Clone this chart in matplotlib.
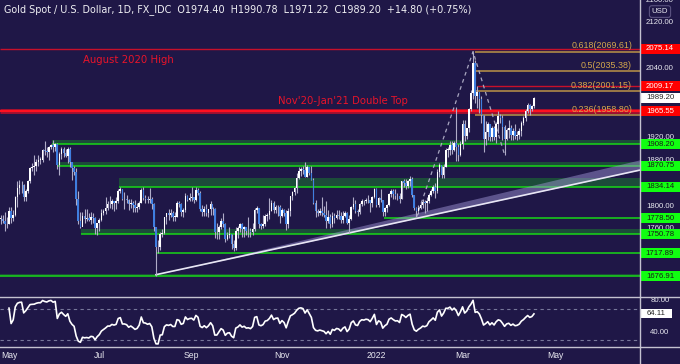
import numpy as np
import pandas as pd
import matplotlib
matplotlib.use("Agg")
import matplotlib.pyplot as plt
from matplotlib.patches import Rectangle
from matplotlib.lines import Line2D

# Gold spot daily bars as (high, low, close), one list per month
apr21 = [(1785, 1769, 1778), (1784, 1770, 1773), (1790, 1756, 1768), (1780, 1761, 1769)]
may21 = [(1799, 1768, 1792), (1798, 1771, 1779), (1793, 1774, 1784), (1817, 1782, 1815), (1844, 1798, 1831),
         (1845, 1821, 1836), (1843, 1822, 1837), (1838, 1809, 1815), (1829, 1808, 1826), (1845, 1823, 1844),
         (1869, 1841, 1867), (1875, 1862, 1869), (1890, 1855, 1870), (1883, 1862, 1877), (1890, 1870, 1881),
         (1886, 1873, 1881), (1900, 1877, 1898), (1913, 1890, 1896), (1903, 1885, 1895), (1905, 1880, 1903),
         (1909, 1899, 1906)]
jun21 = [(1916, 1894, 1903), (1910, 1896, 1908), (1910, 1864, 1871), (1895, 1855, 1891),
         (1903, 1882, 1899), (1903, 1885, 1893), (1900, 1885, 1888), (1903, 1876, 1899), (1903, 1869, 1877),
         (1877, 1845, 1866), (1870, 1854, 1859), (1866, 1802, 1812), (1826, 1768, 1774), (1790, 1761, 1764),
         (1789, 1765, 1782), (1794, 1771, 1778), (1795, 1773, 1779), (1787, 1773, 1776), (1789, 1769, 1781),
         (1788, 1771, 1779), (1780, 1751, 1761), (1771, 1750, 1770)]
jul21 = [(1779, 1757, 1776), (1795, 1774, 1787),
         (1795, 1784, 1792), (1815, 1786, 1797), (1809, 1793, 1803), (1818, 1796, 1803), (1812, 1795, 1808),
         (1809, 1791, 1806), (1815, 1795, 1808), (1830, 1806, 1826), (1834, 1823, 1829), (1830, 1810, 1812),
         (1825, 1794, 1812), (1820, 1806, 1810), (1812, 1793, 1803), (1812, 1797, 1806), (1808, 1790, 1802),
         (1810, 1790, 1797), (1805, 1790, 1799), (1808, 1795, 1806), (1832, 1806, 1828), (1833, 1810, 1814)]
aug21 = [(1820, 1805, 1813), (1817, 1805, 1810), (1832, 1806, 1812), (1815, 1794, 1804), (1806, 1757, 1763),
         (1764, 1677, 1729), (1740, 1718, 1728), (1754, 1724, 1752), (1760, 1746, 1753), (1781, 1751, 1780),
         (1788, 1768, 1787), (1795, 1775, 1785), (1794, 1780, 1788), (1791, 1774, 1781), (1790, 1774, 1781),
         (1808, 1780, 1805), (1809, 1798, 1803), (1805, 1782, 1790), (1796, 1781, 1793), (1823, 1790, 1818),
         (1820, 1808, 1810), (1823, 1808, 1814)]
sep21 = [(1834, 1809, 1815), (1816, 1805, 1810), (1834, 1809, 1828),
         (1831, 1820, 1823), (1827, 1791, 1794), (1802, 1783, 1789), (1800, 1782, 1795), (1804, 1783, 1788),
         (1795, 1780, 1794), (1809, 1785, 1804), (1798, 1785, 1794), (1796, 1745, 1754), (1770, 1742, 1754),
         (1767, 1742, 1764), (1779, 1760, 1774), (1787, 1764, 1768), (1770, 1737, 1743), (1755, 1741, 1750),
         (1763, 1745, 1751), (1752, 1725, 1734), (1740, 1721, 1726), (1764, 1723, 1757)]
oct21 = [(1765, 1745, 1761),
         (1770, 1754, 1769), (1770, 1746, 1760), (1765, 1746, 1763), (1764, 1750, 1756), (1781, 1746, 1757),
         (1762, 1746, 1754), (1770, 1750, 1760), (1796, 1757, 1793), (1800, 1787, 1796), (1797, 1762, 1768),
         (1771, 1759, 1765), (1785, 1761, 1769), (1786, 1765, 1782), (1788, 1774, 1784), (1814, 1778, 1792),
         (1810, 1791, 1806), (1809, 1788, 1793), (1801, 1787, 1798), (1802, 1783, 1799), (1801, 1770, 1783)]
nov21 = [(1797, 1780, 1793), (1794, 1782, 1787), (1793, 1758, 1769), (1796, 1761, 1792), (1818, 1782, 1818),
         (1827, 1810, 1824), (1834, 1819, 1832), (1857, 1822, 1849), (1868, 1847, 1862), (1869, 1853, 1865),
         (1870, 1856, 1863), (1877, 1851, 1851), (1871, 1850, 1869), (1869, 1855, 1858), (1870, 1845, 1846),
         (1849, 1804, 1805), (1811, 1781, 1791), (1795, 1782, 1788), (1796, 1785, 1791), (1815, 1782, 1788),
         (1800, 1780, 1785), (1808, 1761, 1774)]
dec21 = [(1793, 1770, 1781), (1786, 1762, 1768), (1790, 1763, 1783),
         (1787, 1771, 1779), (1793, 1777, 1785), (1793, 1777, 1783), (1789, 1771, 1775), (1791, 1770, 1783),
         (1792, 1781, 1787), (1790, 1768, 1770), (1785, 1753, 1777), (1800, 1776, 1798), (1815, 1795, 1804),
         (1810, 1788, 1791), (1795, 1782, 1789), (1806, 1786, 1803), (1812, 1800, 1809), (1811, 1802, 1808),
         (1814, 1805, 1811), (1820, 1805, 1810), (1811, 1790, 1805), (1817, 1799, 1815), (1831, 1814, 1829)]
jan22 = [(1831, 1798, 1801), (1815, 1799, 1814), (1829, 1807, 1810), (1811, 1782, 1789), (1799, 1783, 1797),
         (1804, 1790, 1802), (1822, 1800, 1821), (1829, 1816, 1826), (1829, 1812, 1821), (1829, 1813, 1817),
         (1822, 1810, 1818), (1822, 1805, 1813), (1844, 1812, 1843), (1847, 1834, 1840), (1847, 1829, 1835),
         (1846, 1831, 1843), (1853, 1835, 1848), (1851, 1815, 1819), (1820, 1793, 1797), (1799, 1780, 1791),
         (1802, 1786, 1797)]
feb22 = [(1807, 1795, 1801), (1813, 1797, 1807), (1811, 1788, 1805), (1815, 1792, 1808),
         (1823, 1805, 1820), (1829, 1817, 1826), (1836, 1823, 1833), (1841, 1814, 1827), (1865, 1822, 1859),
         (1875, 1850, 1871), (1870, 1849, 1854), (1873, 1849, 1869), (1902, 1869, 1898), (1903, 1886, 1898),
         (1913, 1890, 1906), (1914, 1891, 1898), (1914, 1896, 1910), (1974, 1878, 1903), (1909, 1878, 1889),
         (1914, 1888, 1909)]
mar22 = [(1950, 1900, 1943), (1950, 1913, 1922), (1937, 1918, 1936), (1971, 1929, 1970),
         (2002, 1967, 1998), (2070, 1987, 2050), (2056, 1980, 1993), (2009, 1972, 2000), (2000, 1962, 1988),
         (1992, 1945, 1960), (1960, 1895, 1918), (1949, 1906, 1929), (1947, 1915, 1943), (1944, 1914, 1921),
         (1940, 1914, 1936), (1940, 1915, 1921), (1947, 1910, 1944), (1966, 1927, 1958), (1961, 1946, 1954),
         (1960, 1915, 1938), (1941, 1890, 1918), (1937, 1915, 1933), (1950, 1919, 1937)]
apr22 = [(1941, 1915, 1925),
         (1937, 1916, 1932), (1944, 1917, 1923), (1932, 1915, 1925), (1937, 1918, 1931), (1949, 1923, 1946),
         (1958, 1941, 1954), (1970, 1948, 1966), (1981, 1963, 1977), (1978, 1960, 1970), (1976, 1966, 1974.40),
         (1990.78, 1971.22, 1989.20)]
first_open = 1778.0

red_levels = [2075.14, 2009.17, 1965.55]
green_levels = [1908.20, 1870.75, 1834.14, 1778.50, 1750.78, 1717.89, 1676.91]
fib_ratios = [0.618, 0.5, 0.382, 0.236]
fib_values = [2069.61, 2035.38, 2001.15, 1958.80]
price_ticks = [2160, 2120, 2040, 1920, 1880, 1800, 1760]
last_price = 1989.20
rsi_last = 64.11
month_labels = ["May", "Jul", "Sep", "Nov", "2022", "Mar", "May"]
month_starts = ["2021-05-01", "2021-07-01", "2021-09-01", "2021-11-01", "2022-01-01", "2022-03-01", "2022-05-01"]
trend_pts = [("2021-08-09", 1680), ("2021-12-15", 1753)]
fib_pts = [("2022-01-28", 1780), ("2022-03-08", 2070), ("2022-03-29", 1890)]

rows = apr21 + may21 + jun21 + jul21 + aug21 + sep21 + oct21 + nov21 + dec21 + jan22 + feb22 + mar22 + apr22
dates = pd.bdate_range("2021-04-27", "2022-04-18")
assert len(rows) == len(dates)
highs = np.array([r[0] for r in rows], float)
lows = np.array([r[1] for r in rows], float)
closes = np.array([r[2] for r in rows], float)
opens = np.concatenate([[first_open], closes[:-1]])
n = len(closes)
xs = np.arange(n)
all_days = pd.bdate_range("2021-04-27", "2022-06-30")


def bar_of(d):
    return int(np.searchsorted(all_days, pd.Timestamp(d)))


BG = "#1f1747"
GRID = "#c4c2d0"
W, H = 680, 364
X0, X1 = -0.286, 304.5
P0, P1 = 1641, 2160.2

fig = plt.figure(figsize=(6.8, 3.64), dpi=100)
fig.patch.set_facecolor(BG)


def px_axes(x, y, w, h):
    a = fig.add_axes([x / W, 1 - (y + h) / H, w / W, h / H])
    a.set_facecolor(BG)
    for s in a.spines.values():
        s.set_visible(False)
    return a


ax = px_axes(0, 0, 640, 297)
axr = px_axes(640, 0, 40, 297)
rs = px_axes(0, 297, 640, 50)
rsr = px_axes(640, 297, 40, 50)
for a in (ax, rs):
    a.set_xlim(X0, X1)
ax.set_ylim(P0, P1)
axr.set_ylim(P0, P1)
axr.set_xlim(0, 1)
for a in (ax, axr, rsr):
    a.set_xticks([])
    a.set_yticks([])

# green support zones
green_style = {1908.20: ("2021-06-01", 7), 1870.75: ("2021-06-04", 6), 1834.14: ("2021-07-15", 15),
               1778.50: ("2022-01-07", 0), 1750.78: ("2021-06-21", 9), 1717.89: ("2021-08-10", 0),
               1676.91: ("2021-04-27", 5)}
for lv in green_levels:
    start, band = green_style[lv]
    s = bar_of(start) - 0.5
    if band:
        ax.add_patch(Rectangle((s, lv), X1 - s, band, color="#1c4c3a", lw=0, zorder=1))
    ax.hlines(lv, s, X1, color="#18d818", lw=1.1, zorder=2)

# red levels
ax.hlines(red_levels[0], X0, X1, color="#c8102a", lw=1.0, zorder=2)
ax.hlines(red_levels[1], bar_of("2022-03-10"), X1, color="#c8102a", lw=1.0, zorder=2)
ax.hlines(red_levels[2], X0, X1, color="#9a1030", lw=3.6, zorder=2)
ax.hlines(red_levels[2], X0, X1, color="#ff1020", lw=1.6, zorder=2)

# fib extension levels
fs = bar_of("2022-03-09")
for r, v in zip(fib_ratios, fib_values):
    ax.hlines(v, fs, X1, color="#b08a48", lw=1.2, zorder=2)
    ax.text(300.7, v + 2.5, f"{r}({v:.2f})", color="#d4a84c", fontsize=6.4,
            family="Liberation Sans", ha="right", va="bottom", zorder=6)

# rising trendline with shaded band
tx = [bar_of(d) for d, _ in trend_pts]
slope = (trend_pts[1][1] - trend_pts[0][1]) / (tx[1] - tx[0])
lx = np.array([tx[0], X1])
ly = trend_pts[0][1] + slope * (lx - tx[0])
ax.fill_between(lx, ly, ly + np.array([0, 18]), color="#a89ee0", alpha=0.45, lw=0, zorder=2)
ax.plot(lx, ly, color="#e8e6f4", lw=1.2, zorder=3)

# fib tool dashed path
ax.plot([bar_of(d) for d, _ in fib_pts], [p for _, p in fib_pts], color="#a8a6c0",
        lw=0.9, dashes=(3, 3), zorder=3)

# candles
up = closes >= opens
body_lo = np.minimum(opens, closes)
body_h = np.maximum(np.abs(closes - opens), 0.9)
ax.vlines(xs, lows, highs, color="#b0acc8", lw=0.8, zorder=4)
ax.bar(xs[up], body_h[up], bottom=body_lo[up], width=0.76, color="#ffffff", lw=0, zorder=5)
ax.bar(xs[~up], body_h[~up], bottom=body_lo[~up], width=0.76, color="#3f7ee0", lw=0, zorder=5)

ax.text(83 / 640, 1 - 60 / 297, "August 2020 High", transform=ax.transAxes, color="#e8142a",
        fontsize=7.3, va="center", ha="left", zorder=6)
ax.text(278 / 640, 1 - 101 / 297, "Nov'20-Jan'21 Double Top", transform=ax.transAxes, color="#e8142a",
        fontsize=7.3, va="center", ha="left", zorder=6)

# right price scale
lab_font = dict(fontsize=5.6, family="Liberation Sans", ha="center", va="center")
for t in price_ticks:
    axr.text(0.5, t, f"{t:.2f}", color="#e8e8f0", zorder=1, **lab_font)
axr.text(0.5, 2140, "USD", color="#e8e8f0", zorder=2,
         bbox=dict(boxstyle="round,pad=0.3,rounding_size=0.3", fc=BG, ec="#5a5280", lw=0.8), **lab_font)
bh = 17.5
boxes = [(v, "#ff0000", "white") for v in red_levels] + [(last_price, "white", "#222222")] + \
        [(v, "#11ff11", "#1a1a1a") for v in green_levels]
for v, fc, tc in boxes:
    axr.add_patch(Rectangle((0, v - bh / 2), 1, bh, color=fc, lw=0, zorder=3))
    axr.text(0.5, v, f"{v:.2f}", color=tc, zorder=4, **lab_font)

# RSI(14), Wilder smoothing, expanding average while warming up
delta = np.diff(closes, prepend=first_open)
g = np.clip(delta, 0, None)
l = np.clip(-delta, 0, None)
ag = np.zeros(n)
al = np.zeros(n)
for i in range(n):
    if i < 14:
        ag[i] = g[:i + 1].mean()
        al[i] = l[:i + 1].mean()
    else:
        ag[i] = (ag[i - 1] * 13 + g[i]) / 14
        al[i] = (al[i - 1] * 13 + l[i]) / 14
rsi = 100 - 100 / (1 + ag / np.maximum(al, 1e-9))
rsi[:4] = np.nan

rs.set_ylim(21.4, 84.7)
rsr.set_ylim(21.4, 84.7)
rsr.set_xlim(0, 1)
rs.hlines([70, 30], X0, X1, color="#77779a", lw=0.8, linestyles=(0, (3, 3)))
rs.plot(xs, rsi, color="#ffffff", lw=1.2)
rs.set_yticks([])
ticks = [bar_of(d) for d in month_starts]
rs.set_xticks(ticks)
rs.set_xticklabels(month_labels, color="#e8e8f0", fontsize=6.2, family="Liberation Sans")
rs.tick_params(axis="x", length=0, pad=3.2)
for t in (80, 40):
    rsr.text(0.5, t, f"{t:.2f}", color="#e8e8f0", **lab_font)
rsr.add_patch(Rectangle((0, rsi_last - 5.5), 0.8, 11, color="white", lw=0))
rsr.text(0.4, rsi_last, f"{rsi_last:.2f}", color="#222222", fontsize=5.6, family="Liberation Sans",
         ha="center", va="center")

# panel separators and price-scale border
for y in (297, 347):
    fig.add_artist(Line2D([0, 1], [1 - y / H, 1 - y / H], color=GRID, lw=1.0))
fig.add_artist(Line2D([640 / W, 640 / W], [0, 1], color=GRID, lw=1.0))

fig.text(4 / W, 1 - 10 / H, "Gold Spot / U.S. Dollar, 1D, FX_IDC  O1974.40  H1990.78  L1971.22  C1989.20  +14.80 (+0.75%)",
         color="#f0f0f4", fontsize=6.9, va="center", ha="left")

fig.savefig("out.png", dpi=100, facecolor=BG)
